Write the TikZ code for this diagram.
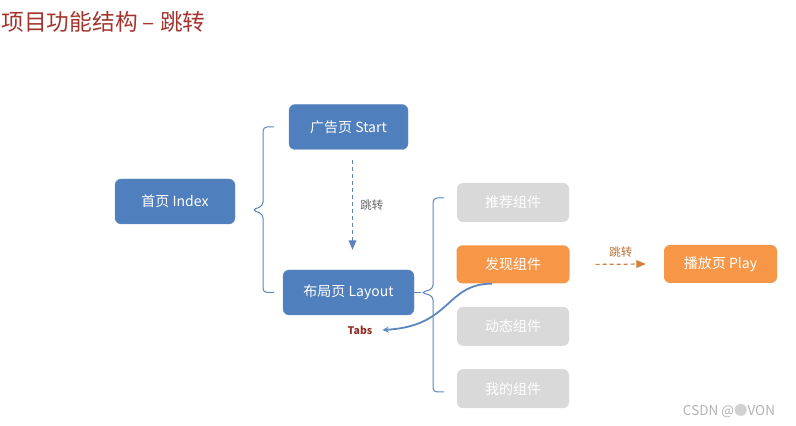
\documentclass[tikz,border=0pt]{standalone}
\usepackage{xcolor}
\usepackage{fontspec}
\setmainfont{Noto Sans CJK SC}
\usepackage{tikz}
\usetikzlibrary{calc,chains,positioning,arrows}

\definecolor{boxblue}{HTML}{4F7FBC}
\definecolor{boxorange}{HTML}{F79646}
\definecolor{boxgray}{HTML}{D9D9D9}
\definecolor{titlered}{HTML}{A3352E}
\definecolor{linkblue}{HTML}{5B86BD}

\begin{document}
\begin{tikzpicture}[x=1pt,y=1pt,
      page/.style={
            rectangle, rounded corners=6pt,
            minimum height=45pt, inner sep=4pt,
            text=white, font=\fontsize{14}{16}\selectfont
        },
      blue page/.style={page, fill=boxblue, draw=boxblue!85!white},
      orange page/.style={page, fill=boxorange, minimum height=38pt, minimum width=113pt},
      part/.style={page, fill=boxgray, minimum height=39pt, minimum width=112pt},
      brace/.style={draw=linkblue, line width=1pt, rounded corners=4pt},
      jump/.style={dashed, dash pattern=on 4pt off 3pt, line width=1.2pt, -triangle 45},
      start chain=going below, node distance=23pt
      ]
    \useasboundingbox (0,0) rectangle (796,426);

    \node[anchor=west, text=titlered, font=\fontsize{22.7}{26}\selectfont] (T) at (-2,404) {项目功能结构 – 跳转};

    \node[blue page, minimum width=120pt] (I) at (175,224.5) {首页 Index};
    \node[blue page, minimum width=119pt] (S) at (348.5,299) {广告页 Start};
    \node[blue page, minimum width=131pt] (L) at (348.5,133.5) {布局页 Layout};

    \node[part,on chain] (A) at (513,223.5) {推荐组件};
    \node[orange page,on chain] (D) {发现组件};
    \node[part,on chain] (E) {动态组件};
    \node[part,on chain] (M) {我的组件};

    \node[orange page] (P) at (720.5,162) {播放页 Play};

    \node[text=titlered!90!black, font=\fontsize{10.5}{12}\selectfont\bfseries, inner xsep=10pt] (B) at (360,96) {Tabs};

    % left brace from Index
    \coordinate (lt) at (252,216);
    \draw[brace] ($(S.west)+(-15,0)$) -- (263,299) -- (263,220) -- (lt) -- (263,212) -- (263,133.5) -- ($(L.west)+(-9,0)$);

    % right brace from Layout
    \coordinate (rt) at (421,133.5);
    \draw[brace] (444,228) -- (433,228) -- (433,137) -- (rt) -- (433,130) -- (433,34) -- (444,34);
    \draw[brace] (L.east) -- (rt);

    % jumps
    \draw[jump, draw=linkblue] ($(S.south)+(4,-10)$) -- ($(L.north)+(4,20)$)
        node[midway, right=4pt, text=black!60, font=\fontsize{11.5}{13}\selectfont] {跳转};
    \draw[jump, draw=boxorange!85!black] ($(D.east)+(26,0)$) -- ($(P.west)+(-18,0)$)
        node[midway, above=3pt, text=boxorange!75!black, font=\fontsize{11.5}{13}\selectfont] {跳转};

    \draw[-stealth, draw=linkblue, line width=1.8pt] ($(D.south)+(-21,0)$) .. controls (445,142) and (452,100) .. (B.east);

    \node[text=black!30, font=\fontsize{13.5}{15}\selectfont] (W) at (729,15) {CSDN @{\color{black!18}●}VON};
  \end{tikzpicture}
\end{document}
